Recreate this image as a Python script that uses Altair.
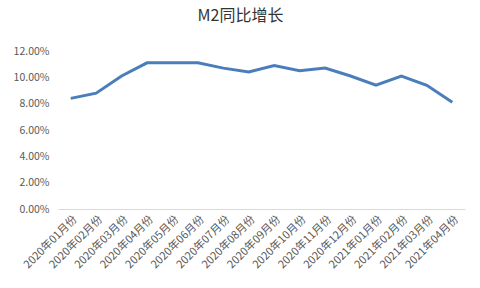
import altair as alt
import pandas as pd

months = ["2020年01月份", "2020年02月份", "2020年03月份", "2020年04月份",
          "2020年05月份", "2020年06月份", "2020年07月份", "2020年08月份",
          "2020年09月份", "2020年10月份", "2020年11月份", "2020年12月份",
          "2021年01月份", "2021年02月份", "2021年03月份", "2021年04月份"]
m2_growth = [8.4, 8.8, 10.1, 11.1, 11.1, 11.1, 10.7, 10.4,
             10.9, 10.5, 10.7, 10.1, 9.4, 10.1, 9.4, 8.1]

df = pd.DataFrame({"month": months, "value": [v / 100 for v in m2_growth]})

font = "Noto Sans CJK SC"

chart = alt.Chart(df).mark_line(color="#4a7ebb", strokeWidth=3).encode(
    x=alt.X("month:N", sort=months, title=None,
            scale=alt.Scale(type="point", padding=0.5),
            axis=alt.Axis(labelAngle=-45, labelFontSize=11, labelColor="#595959",
                          labelFont=font, ticks=False, domainColor="#d9d9d9",
                          grid=False, labelPadding=4)),
    y=alt.Y("value:Q", title=None,
            scale=alt.Scale(domain=[0, 0.12], nice=False),
            axis=alt.Axis(format=".2%", values=[0, 0.02, 0.04, 0.06, 0.08, 0.10, 0.12],
                          grid=False, domain=False, ticks=False, labelFontSize=10.5,
                          labelColor="#595959", labelFont=font, labelPadding=9)),
).properties(
    width=407, height=158,
    title=alt.TitleParams("M2同比增长", fontSize=16, font=font, fontWeight="normal",
                          color="#333333", anchor="middle", offset=22, dx=-21),
    autosize=alt.AutoSizeParams(type="none"),
    padding={"left": 58, "top": 51, "right": 15, "bottom": 79},
).configure_view(stroke=None)

chart.save("out.html", embed_options={"renderer": "svg", "actions": False})
